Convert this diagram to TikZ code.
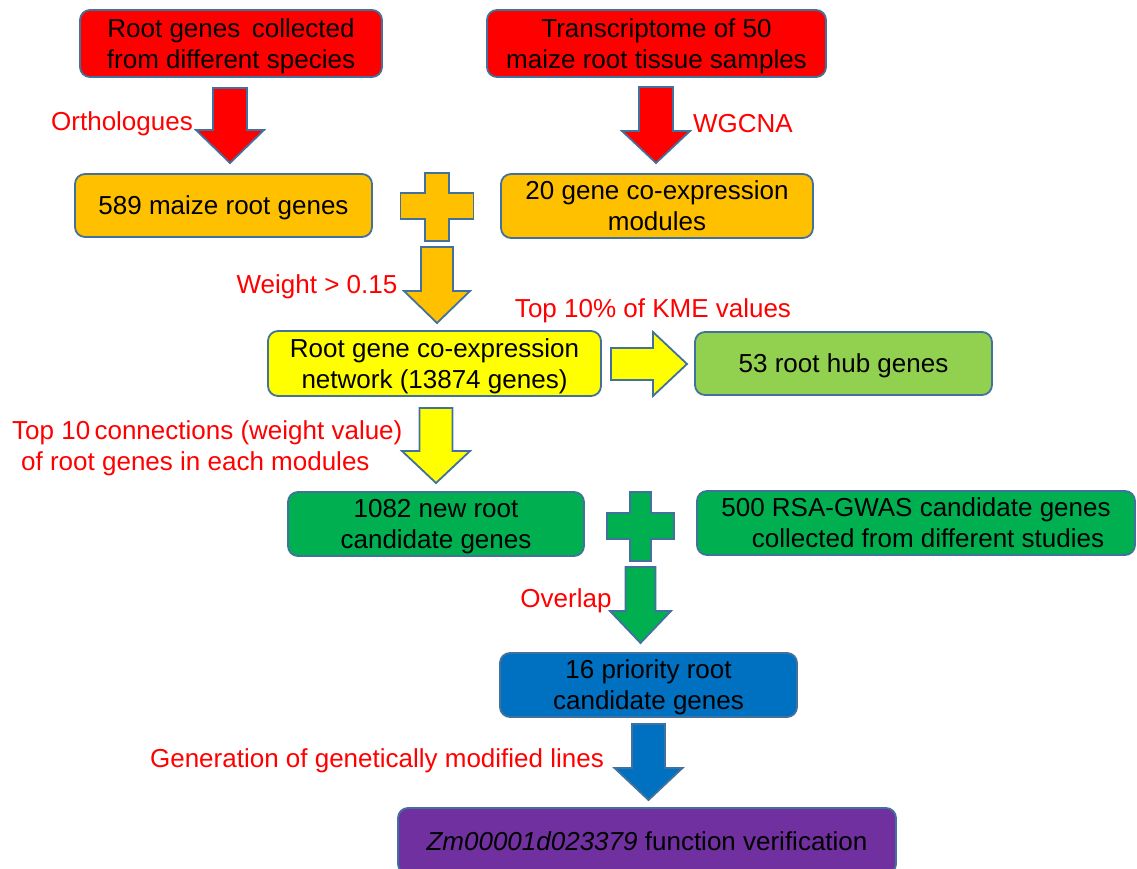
\documentclass[tikz,border=0pt]{standalone}
\usepackage{fontspec}
\setmainfont{Liberation Sans}
\definecolor{bord}{HTML}{41719C}
\definecolor{cred}{HTML}{FF0000}
\definecolor{corange}{HTML}{FFC000}
\definecolor{cyellow}{HTML}{FFFF00}
\definecolor{clgreen}{HTML}{92D050}
\definecolor{cgreen}{HTML}{00B050}
\definecolor{cblue}{HTML}{0070C0}
\definecolor{cpurple}{HTML}{7030A0}
\tikzset{
  box/.style={draw=bord, line width=1.8pt, rounded corners=10pt, align=center,
    inner sep=0pt, text depth=-6pt, font=\fontsize{26}{31}\selectfont},
  lbl/.style={text=cred, align=center, inner sep=0pt, text depth=0pt, font=\fontsize{26}{31}\selectfont},
  blk/.style={draw=bord, line width=1.8pt, line join=miter},
}
% down arrow: #1 cx, #2 top, #3 shaft half, #4 head start, #5 head half, #6 tip, #7 colour
\newcommand\dnarrowshape[7]{%
  \filldraw[blk, fill=#7] (#1-#3,#2) -- (#1+#3,#2) -- (#1+#3,#4) -- (#1+#5,#4)
    -- (#1,#6) -- (#1-#5,#4) -- (#1-#3,#4) -- cycle;}
% plus: #1 cx, #2 cy, #3 arm half-thickness x, #4 horiz half-length, #5 vert top, #6 vert bottom, #7 horiz top, #8 horiz bottom, #9 colour
\newcommand\plusshape[9]{%
  \filldraw[blk, fill=#9] (#1-#3,#5) -- (#1+#3,#5) -- (#1+#3,#7) -- (#1+#4,#7)
    -- (#1+#4,#8) -- (#1+#3,#8) -- (#1+#3,#6) -- (#1-#3,#6) -- (#1-#3,#8)
    -- (#1-#4,#8) -- (#1-#4,#7) -- (#1-#3,#7) -- cycle;}
\begin{document}
\begin{tikzpicture}[x=1pt, y=-1pt]
\clip (0,0) rectangle (1137,869);
\fill[white] (0,0) rectangle (1137,869);

% boxes
\node[box, fill=cred, minimum width=302pt, minimum height=67pt] (b1) at (231,43.5)
  {Root genes\, collected\\from different species};
\node[box, fill=cred, minimum width=339pt, minimum height=67pt] (b2) at (656.5,43.5)
  {Transcriptome of 50\\maize root tissue samples};
\node[box, fill=corange, minimum width=297pt, minimum height=63pt] (b3) at (223.5,205.5)
  {589 maize root genes};
\node[box, fill=corange, minimum width=312pt, minimum height=64pt] (b4) at (657,206)
  {20 gene co-expression\\modules};
\node[box, fill=cyellow, minimum width=333pt, minimum height=65pt] (b5) at (434.5,363.5)
  {Root gene co-expression\\network (13874 genes)};
\node[box, fill=clgreen, minimum width=297pt, minimum height=63pt] (b6) at (843.5,363.5)
  {53 root hub genes};
\node[box, fill=cgreen, minimum width=296pt, minimum height=64pt] (b7) at (436,524)
  {1082 new root\\candidate genes};
\node[box, fill=cgreen, minimum width=438pt, minimum height=64pt] (b8) at (916,523)
  {500 RSA-GWAS candidate genes\\\hspace*{24pt}collected from different studies};
\node[box, fill=cblue, minimum width=297pt, minimum height=64pt] (b9) at (648.5,685)
  {16 priority root\\candidate genes};
\node[box, fill=cpurple, minimum width=498pt, minimum height=66pt] (b10) at (647,841)
  {\textit{Zm00001d023379} function verification};

% arrows
\dnarrowshape{230}{88}{17}{130}{34}{163}{cred}
\dnarrowshape{656}{87}{17}{131}{34}{163}{cred}
\plusshape{437}{207}{12}{36.5}{173}{241}{193}{219}{corange}
\dnarrowshape{437}{247}{16}{291}{33}{323}{corange}
\filldraw[blk, fill=cyellow] (611,348) -- (653,348) -- (653,332) -- (687,364)
  -- (653,396) -- (653,380) -- (611,380) -- cycle;
\dnarrowshape{436}{408}{16.5}{451}{34}{483}{cyellow}
\plusshape{640.5}{526.5}{10.5}{33.5}{492}{561}{513}{539}{cgreen}
\dnarrowshape{640.5}{567}{15}{611}{30.5}{643}{cgreen}
\dnarrowshape{648.5}{724}{16.5}{768}{34}{800}{cblue}

% labels
\node[lbl] (l1) at (122,121) {Orthologues};
\node[lbl] (l2) at (743,123) {WGCNA};
\node[lbl] (l3) at (317,284) {Weight > 0.15};
\node[lbl] (l4) at (653,308) {Top 10\% of KME values};
\node[lbl, align=left, anchor=west] (l5) at (12,445.5) {Top 10\,connections (weight value)\\\hspace*{9pt}of root genes in each modules};
\node[lbl] (l6) at (566,598) {Overlap};
\node[lbl] (l7) at (377,758) {Generation of genetically modified lines};
\end{tikzpicture}
\end{document}
